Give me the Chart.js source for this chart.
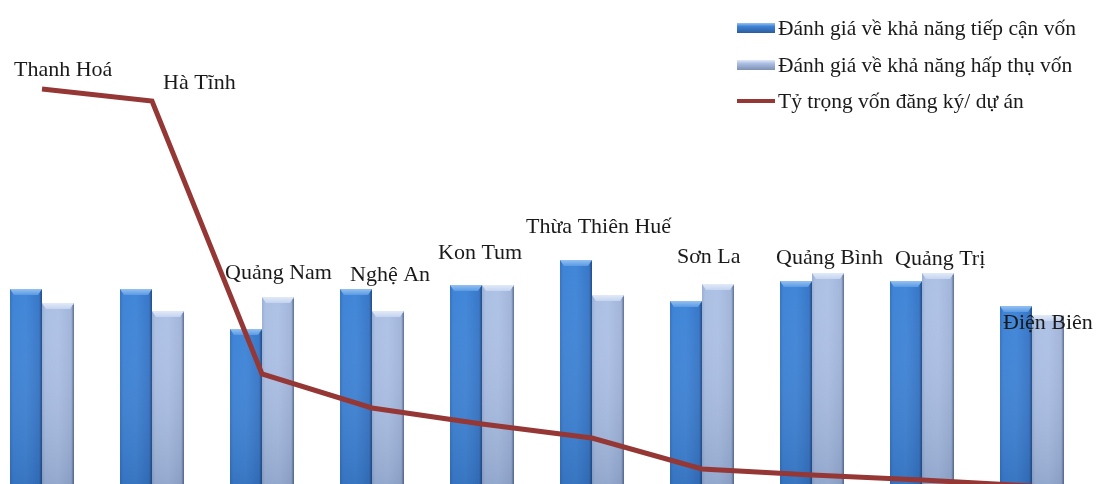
<!DOCTYPE html>
<html><head><meta charset="utf-8">
<script src="https://cdn.jsdelivr.net/npm/chart.js@4"></script>
<style>
html,body{margin:0;padding:0;background:#fff;overflow:hidden;width:1096px;height:484px;}
#wrap{position:absolute;left:-13px;top:0;width:1120px;height:490px;}
</style></head><body>
<div id="wrap"><canvas id="c" width="1120" height="490"></canvas></div>
<script>
const categories = ["Thanh Hoá","Hà Tĩnh","Quảng Nam","Nghệ An","Kon Tum","Thừa Thiên Huế","Sơn La","Quảng Bình","Quảng Trị","Điện Biên"];
const accessScore = [2.01,2.01,1.61,2.01,2.05,2.30,1.89,2.09,2.09,1.84];
const absorbScore = [1.87,1.79,1.93,1.79,2.05,1.95,2.06,2.17,2.17,1.75];
const capitalShare = [4.01,3.89,1.16,0.82,0.66,0.52,0.21,0.15,0.10,0.04];
const seriesNames = ["Đánh giá về khả năng tiếp cận vốn","Đánh giá về khả năng hấp thụ vốn","Tỷ trọng vốn đăng ký/ dự án"];
// label placement (page layout: offset from category centre in px, baseline y in px)
const labelPos = [[-28,76],[11,89],[-37,279],[-22,281],[-44,259],[-66,233],[-25,263],[-36,264],[-27,265],[-29,329]];

const CAT_PCT = 0.582;
function barGrad(ctx, di, light){
  const ch = ctx.chart, xs = ch.scales.x;
  const fallback = light?'#A7BBDF':'#3B7BCB';
  if(!xs) return fallback;
  const c = xs.getPixelForValue(ctx.dataIndex);
  if(!isFinite(c)) return fallback;
  const cw = xs.width / categories.length;
  const w = cw*CAT_PCT/2;
  const x0 = di===0 ? c - w : c;
  const g = ch.ctx.createLinearGradient(x0,0,x0+w,0);
  if(!light){
    g.addColorStop(0,'#3472C2');g.addColorStop(0.1,'#3E83D6');g.addColorStop(0.5,'#4186D8');g.addColorStop(0.9,'#3877C8');g.addColorStop(1,'#2C5C9C');
  } else {
    g.addColorStop(0,'#9AAED3');g.addColorStop(0.1,'#ABBFE3');g.addColorStop(0.5,'#AEC2E6');g.addColorStop(0.9,'#A2B5DA');g.addColorStop(1,'#7F90B2');
  }
  return g;
}

const bevel = {
  id:'bevel',
  afterDatasetDraw(chart,args){
    const ds = chart.data.datasets[args.index];
    if(ds.type!=='bar') return;
    const ctx = chart.ctx, light = args.index===1;
    const bottom = chart.chartArea.bottom;
    args.meta.data.forEach(el=>{
      const x0 = el.x - el.width/2, x1 = el.x + el.width/2, y0 = el.y;
      ctx.save();
      const vg = ctx.createLinearGradient(0,y0,0,bottom);
      vg.addColorStop(0,'rgba(255,255,255,0)');vg.addColorStop(1,'rgba(0,25,70,0.16)');
      ctx.fillStyle = vg; ctx.fillRect(x0,y0,x1-x0,bottom-y0);
      ctx.beginPath();ctx.moveTo(x0,y0);ctx.lineTo(x1,y0);ctx.lineTo(x1-4,y0+6);ctx.lineTo(x0+4,y0+6);ctx.closePath();
      const tg = ctx.createLinearGradient(0,y0,0,y0+6);
      if(light){tg.addColorStop(0,'#E2EAF8');tg.addColorStop(1,'#C3D3EF');}
      else {tg.addColorStop(0,'#94C1F2');tg.addColorStop(1,'#5A9AE4');}
      ctx.fillStyle = tg; ctx.fill();
      ctx.fillStyle = 'rgba(20,40,80,0.25)';
      ctx.fillRect(x1-1.5,y0+2,1.5,bottom-y0);
      ctx.restore();
    });
  }
};

const annot = {
  id:'annot',
  afterDraw(chart){
    const ctx = chart.ctx, xs = chart.scales.x;
    ctx.save();
    ctx.fillStyle='#1a1a1a';
    ctx.font='22px "Liberation Serif", "Times New Roman", serif';
    ctx.textBaseline='alphabetic';ctx.textAlign='left';
    categories.forEach((c,i)=>{
      const p = labelPos[i];
      ctx.fillText(c, xs.getPixelForValue(i)+p[0], p[1]);
    });
    const lx = 750, rows=[28,65,101];
    ctx.font='21.5px "Liberation Serif", "Times New Roman", serif';
    ctx.textBaseline='middle';
    rows.forEach((y,i)=>{
      if(i<2){
        const g = ctx.createLinearGradient(0,y-5,0,y+5);
        if(i===0){g.addColorStop(0,'#94C1F2');g.addColorStop(0.35,'#3E82D5');g.addColorStop(1,'#2C5C9C');}
        else {g.addColorStop(0,'#E2EAF8');g.addColorStop(0.35,'#AABFE3');g.addColorStop(1,'#7F90B2');}
        ctx.fillStyle=g;ctx.fillRect(lx,y-5,38,10);
      } else {
        ctx.strokeStyle='#953735';ctx.lineWidth=4;ctx.beginPath();ctx.moveTo(lx,y);ctx.lineTo(lx+38,y);ctx.stroke();
      }
      ctx.fillStyle='#1a1a1a';
      ctx.fillText(seriesNames[i], lx+41, y+1);
    });
    ctx.restore();
  }
};

new Chart(document.getElementById('c'),{
  data:{
    labels:categories,
    datasets:[
      {type:'bar',label:seriesNames[0],data:accessScore,order:1,borderWidth:0,
        backgroundColor:(ctx)=>barGrad(ctx,0,false),categoryPercentage:CAT_PCT,barPercentage:1},
      {type:'bar',label:seriesNames[1],data:absorbScore,order:1,borderWidth:0,
        backgroundColor:(ctx)=>barGrad(ctx,1,true),categoryPercentage:CAT_PCT,barPercentage:1},
      {type:'line',label:seriesNames[2],data:capitalShare,order:0,borderColor:'#953735',borderWidth:5,
        pointRadius:0,tension:0,fill:false,borderJoinStyle:'miter'}
    ]
  },
  options:{
    responsive:false,animation:false,devicePixelRatio:1,
    layout:{padding:{left:0,top:0,bottom:0,right:20}},
    plugins:{legend:{display:false},tooltip:{enabled:false}},
    scales:{
      x:{display:false,offset:true},
      y:{display:false,min:0,max:4.9}
    }
  },
  plugins:[bevel,annot]
});
</script></body></html>
